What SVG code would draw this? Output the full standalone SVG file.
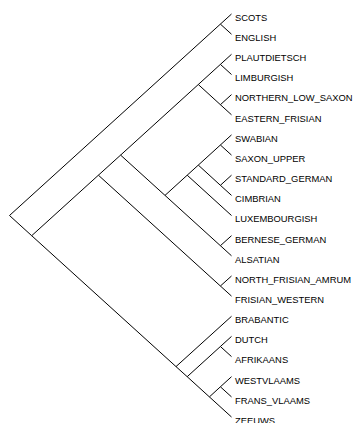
<svg xmlns="http://www.w3.org/2000/svg" width="354" height="423" viewBox="0 0 354 423">
<style>
.e{stroke:#000;stroke-width:1;fill:none}
.t{font-family:"Liberation Sans",Arial,sans-serif;font-size:9.4px;fill:#000}
</style>
<rect width="354" height="423" fill="#fff"/>
<g id="connectors">
<path class="e" d="M9.5,215.5L220.4,24.1M9.5,215.5L31.7,235.7
M220.4,24.1L231.5,14M220.4,24.1L231.5,34.2
M31.7,235.7L98.4,175.2M31.7,235.7L176,366.6
M98.4,175.2L120.6,155.1M98.4,175.2L220.4,286
M120.6,155.1L198.3,84.5M120.6,155.1L165,195.4
M198.3,84.5L220.4,64.4M198.3,84.5L220.4,104.7
M220.4,64.4L231.5,54.3M220.4,64.4L231.5,74.5
M220.4,104.7L231.5,94.6M220.4,104.7L231.5,114.8
M165,195.4L187.2,175.2M165,195.4L220.4,245.7
M187.2,175.2L198.3,165.1M187.2,175.2L231.5,215.5
M198.3,165.1L220.4,145M198.3,165.1L220.4,185.3
M220.4,145L231.5,134.9M220.4,145L231.5,155.1
M220.4,185.3L231.5,175.2M220.4,185.3L231.5,195.4
M220.4,245.7L231.5,235.7M220.4,245.7L231.5,255.8
M220.4,286L231.5,276M220.4,286L231.5,296.1
M176,366.6L231.5,316.3M176,366.6L187.2,376.7
M187.2,376.7L220.4,346.5M187.2,376.7L209.4,396.9
M220.4,346.5L231.5,336.4M220.4,346.5L231.5,356.6
M209.4,396.9L220.4,386.8M209.4,396.9L231.5,417
M220.4,386.8L231.5,376.7M220.4,386.8L231.5,396.9"/>
</g>
<g id="SCOTS"><text class="t" x="235" y="20.8">SCOTS</text></g>
<g id="ENGLISH"><text class="t" x="235" y="41">ENGLISH</text></g>
<g id="PLAUTDIETSCH"><text class="t" x="235" y="61.1">PLAUTDIETSCH</text></g>
<g id="LIMBURGISH"><text class="t" x="235" y="81.3">LIMBURGISH</text></g>
<g id="NORTHERN_LOW_SAXON"><text class="t" x="235" y="101.4">NORTHERN_LOW_SAXON</text></g>
<g id="EASTERN_FRISIAN"><text class="t" x="235" y="121.6">EASTERN_FRISIAN</text></g>
<g id="SWABIAN"><text class="t" x="235" y="141.7">SWABIAN</text></g>
<g id="SAXON_UPPER"><text class="t" x="235" y="161.9">SAXON_UPPER</text></g>
<g id="STANDARD_GERMAN"><text class="t" x="235" y="182">STANDARD_GERMAN</text></g>
<g id="CIMBRIAN"><text class="t" x="235" y="202.2">CIMBRIAN</text></g>
<g id="LUXEMBOURGISH"><text class="t" x="235" y="222.3">LUXEMBOURGISH</text></g>
<g id="BERNESE_GERMAN"><text class="t" x="235" y="242.5">BERNESE_GERMAN</text></g>
<g id="ALSATIAN"><text class="t" x="235" y="262.6">ALSATIAN</text></g>
<g id="NORTH_FRISIAN_AMRUM"><text class="t" x="235" y="282.8">NORTH_FRISIAN_AMRUM</text></g>
<g id="FRISIAN_WESTERN"><text class="t" x="235" y="302.9">FRISIAN_WESTERN</text></g>
<g id="BRABANTIC"><text class="t" x="235" y="323.1">BRABANTIC</text></g>
<g id="DUTCH"><text class="t" x="235" y="343.2">DUTCH</text></g>
<g id="AFRIKAANS"><text class="t" x="235" y="363.4">AFRIKAANS</text></g>
<g id="WESTVLAAMS"><text class="t" x="235" y="383.5">WESTVLAAMS</text></g>
<g id="FRANS_VLAAMS"><text class="t" x="235" y="403.7">FRANS_VLAAMS</text></g>
<g id="ZEEUWS"><text class="t" x="235" y="423.8">ZEEUWS</text></g>
</svg>
